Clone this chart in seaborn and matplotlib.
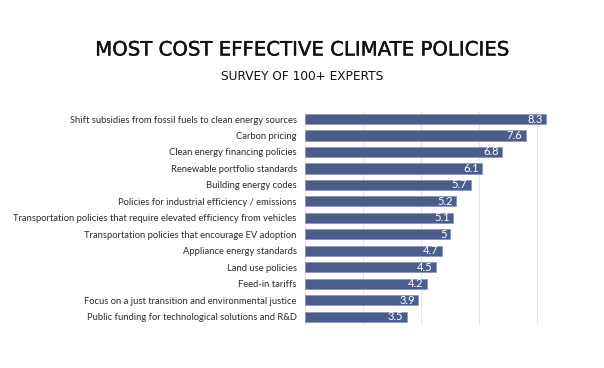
import seaborn as sns
import matplotlib.pyplot as plt
import matplotlib.patheffects as pe
import pandas as pd

policies = [
    "Shift subsidies from fossil fuels to clean energy sources",
    "Carbon pricing",
    "Clean energy financing policies",
    "Renewable portfolio standards",
    "Building energy codes",
    "Policies for industrial efficiency / emissions",
    "Transportation policies that require elevated efficiency from vehicles",
    "Transportation policies that encourage EV adoption",
    "Appliance energy standards",
    "Land use policies",
    "Feed-in tariffs",
    "Focus on a just transition and environmental justice",
    "Public funding for technological solutions and R&D",
]
scores = [8.3, 7.6, 6.8, 6.1, 5.7, 5.2, 5.1, 5.0, 4.7, 4.5, 4.2, 3.9, 3.5]
score_labels = ["8.3", "7.6", "6.8", "6.1", "5.7", "5.2", "5.1", "5", "4.7", "4.5", "4.2", "3.9", "3.5"]

df = pd.DataFrame({"policy": policies, "score": scores})

sns.set_theme(style="white")
plt.rcParams['font.family'] = ['Lato', 'DejaVu Sans']

fig = plt.figure(figsize=(6.04, 3.68), dpi=100)
ax = fig.add_axes([0.505, 0.117, 0.476, 0.582])

sns.barplot(data=df, x="score", y="policy", ax=ax, color="#4a5e8d",
            width=0.62, edgecolor="#8a94ab", linewidth=0.5, saturation=1)

ax.set_xlim(0, 9.9)
ax.set_xticks([0, 2, 4, 6, 8])
ax.xaxis.grid(True, color="#e6e6e6", linewidth=0.8)
ax.axvline(9.9, color="#e6e6e6", linewidth=0.8, zorder=0)
ax.set_axisbelow(True)
ax.set_xticklabels([])
ax.tick_params(axis="x", length=0)
ax.tick_params(axis="y", length=0, pad=6, labelsize=6.75, labelcolor="#2b2b2b")
ax.set_xlabel("")
ax.set_ylabel("")
for s in ax.spines.values():
    s.set_visible(False)

for i, (v, lab) in enumerate(zip(scores, score_labels)):
    ax.text(v - 0.12, i, lab, color="white", fontsize=8, ha="right", va="center")

# title / subtitle in a wider face
fig.text(0.5, 1 - 50 / 368, "MOST COST EFFECTIVE CLIMATE POLICIES", ha="center", va="center",
         fontsize=14.2, color="#111111", family="DejaVu Sans",
         path_effects=[pe.withStroke(linewidth=0.3, foreground="#111111")])
fig.text(0.5, 1 - 76 / 368, "SURVEY OF 100+ EXPERTS", ha="center", va="center",
         fontsize=8.7, color="#111111", family="DejaVu Sans")

fig.savefig("out.png", dpi=100)
